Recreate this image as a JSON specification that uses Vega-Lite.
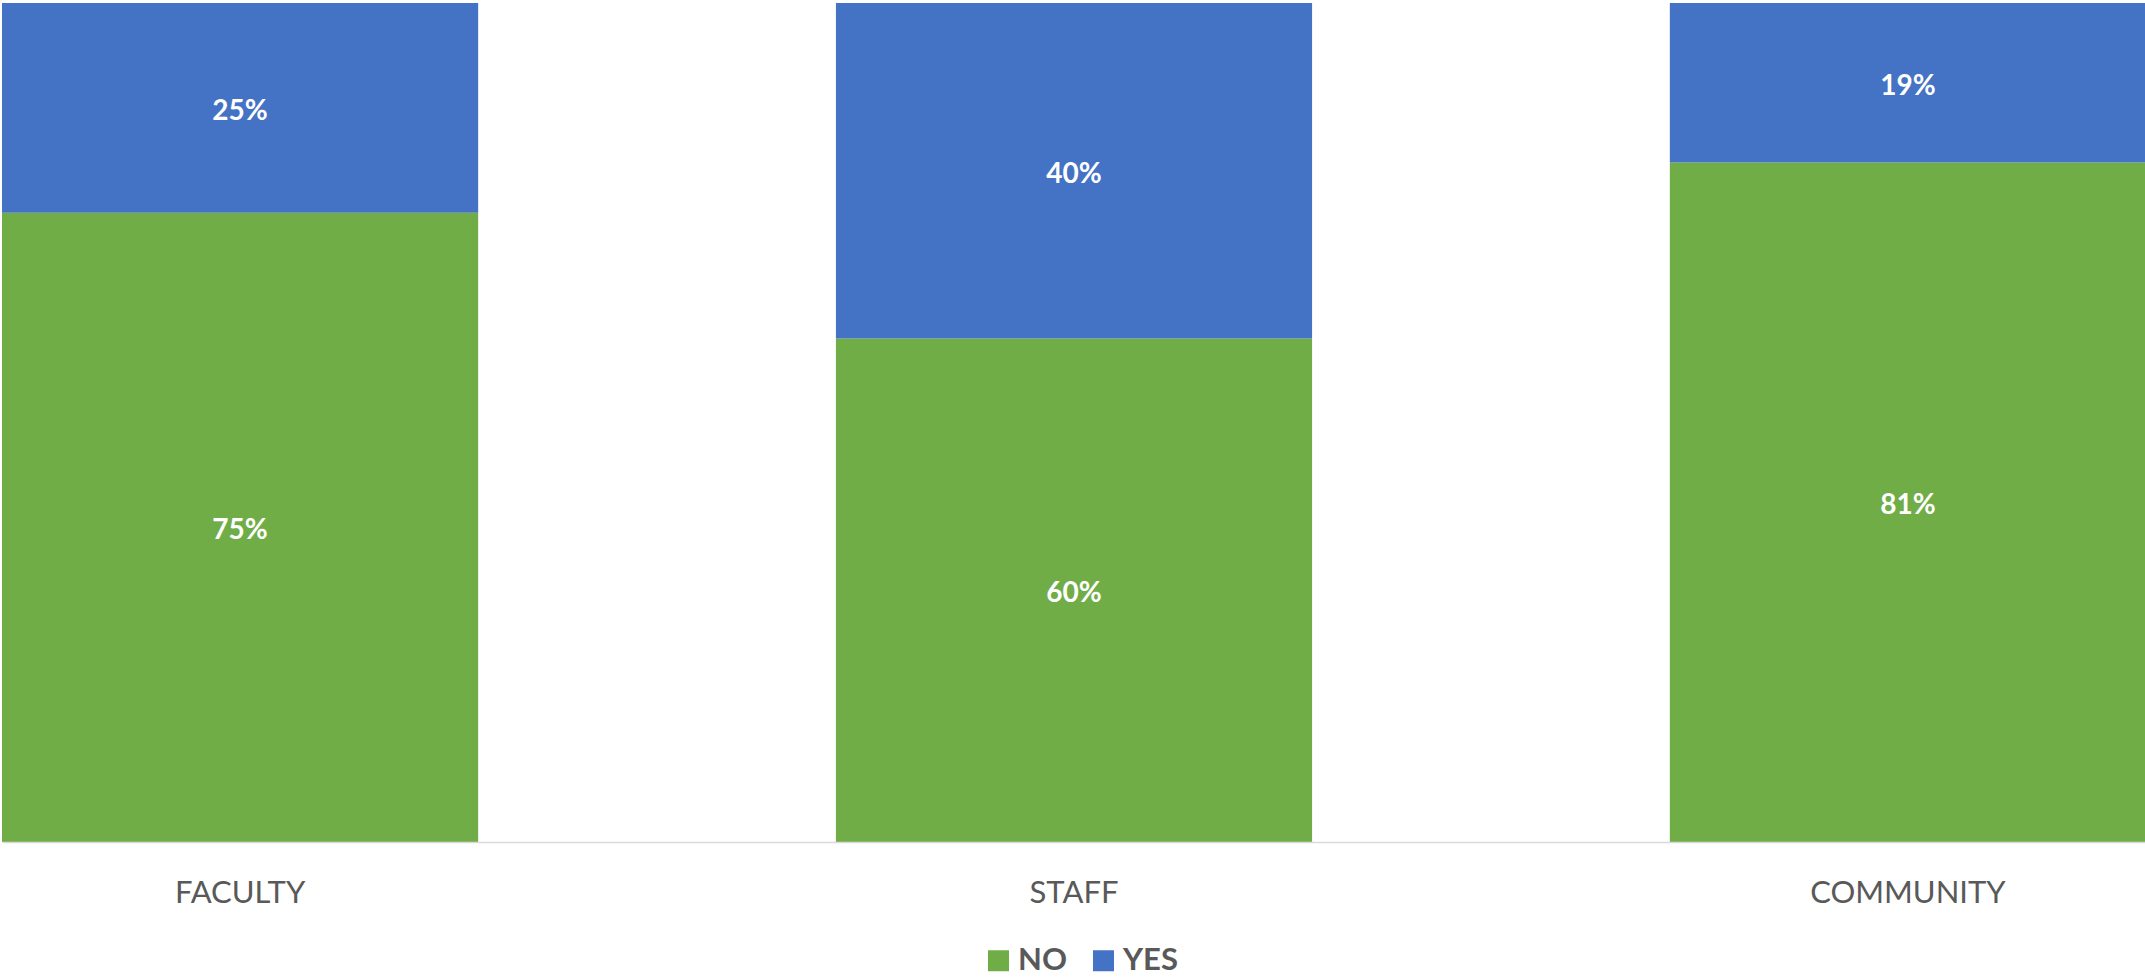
{
  "$schema": "https://vega.github.io/schema/vega-lite/v6.json",
  "width": 2144,
  "height": 839,
  "autosize": {"type": "none"},
  "padding": {"left": 2, "top": 3, "right": 0, "bottom": 135},
  "background": "white",
  "config": {"view": {"stroke": null}, "font": "Lato"},
  "data": {
    "values": [
      {"group": "FACULTY", "answer": "NO", "pct": 0.75},
      {"group": "FACULTY", "answer": "YES", "pct": 0.25},
      {"group": "STAFF", "answer": "NO", "pct": 0.60},
      {"group": "STAFF", "answer": "YES", "pct": 0.40},
      {"group": "COMMUNITY", "answer": "NO", "pct": 0.81},
      {"group": "COMMUNITY", "answer": "YES", "pct": 0.19}
    ]
  },
  "encoding": {
    "x": {
      "field": "group",
      "type": "nominal",
      "sort": ["FACULTY", "STAFF", "COMMUNITY"],
      "scale": {"paddingInner": 0.429, "paddingOuter": 0},
      "axis": {
        "title": null,
        "labelAngle": 0,
        "labelFont": "Lato",
        "labelFontSize": 31,
        "labelColor": "#595959",
        "labelBaseline": "alphabetic",
        "labelPadding": 60,
        "labelLimit": 500,
        "ticks": false,
        "tickSize": 0,
        "domain": true,
        "domainColor": "#d9d9d9",
        "domainWidth": 1.5,
        "grid": false,
        "zindex": 1
      }
    }
  },
  "layer": [
    {
      "mark": {"type": "bar"},
      "encoding": {
        "y": {
          "field": "pct",
          "type": "quantitative",
          "stack": "zero",
          "scale": {"domain": [0, 1], "nice": false},
          "axis": null
        },
        "color": {
          "field": "answer",
          "type": "nominal",
          "scale": {"domain": ["NO", "YES"], "range": ["#70AD47", "#4472C4"]},
          "legend": {
            "title": null,
            "orient": "none",
            "direction": "horizontal",
            "legendX": 981,
            "legendY": 942,
            "symbolType": "square",
            "symbolSize": 441,
            "symbolStrokeWidth": 0,
            "symbolOpacity": 1,
            "labelFont": "Lato",
            "labelFontSize": 31,
            "labelFontWeight": "bold",
            "labelColor": "#595959",
            "labelOffset": 4,
            "columnPadding": 21
          }
        },
        "order": {"field": "answer", "sort": "ascending"}
      }
    },
    {
      "transform": [
        {"stack": "pct", "groupby": ["group"], "sort": [{"field": "answer", "order": "ascending"}], "as": ["y0", "y1"]},
        {"fold": ["y0", "y1"], "as": ["edge", "pos"]},
        {"aggregate": [{"op": "mean", "field": "pos", "as": "mid"}], "groupby": ["group", "answer", "pct"]}
      ],
      "mark": {"type": "text", "color": "white", "font": "Lato", "fontSize": 28, "fontWeight": "bold", "baseline": "middle", "align": "center", "dy": 4},
      "encoding": {
        "y": {"field": "mid", "type": "quantitative", "scale": {"domain": [0, 1], "nice": false}, "axis": null},
        "text": {"field": "pct", "type": "quantitative", "format": ".0%"}
      }
    }
  ]
}
